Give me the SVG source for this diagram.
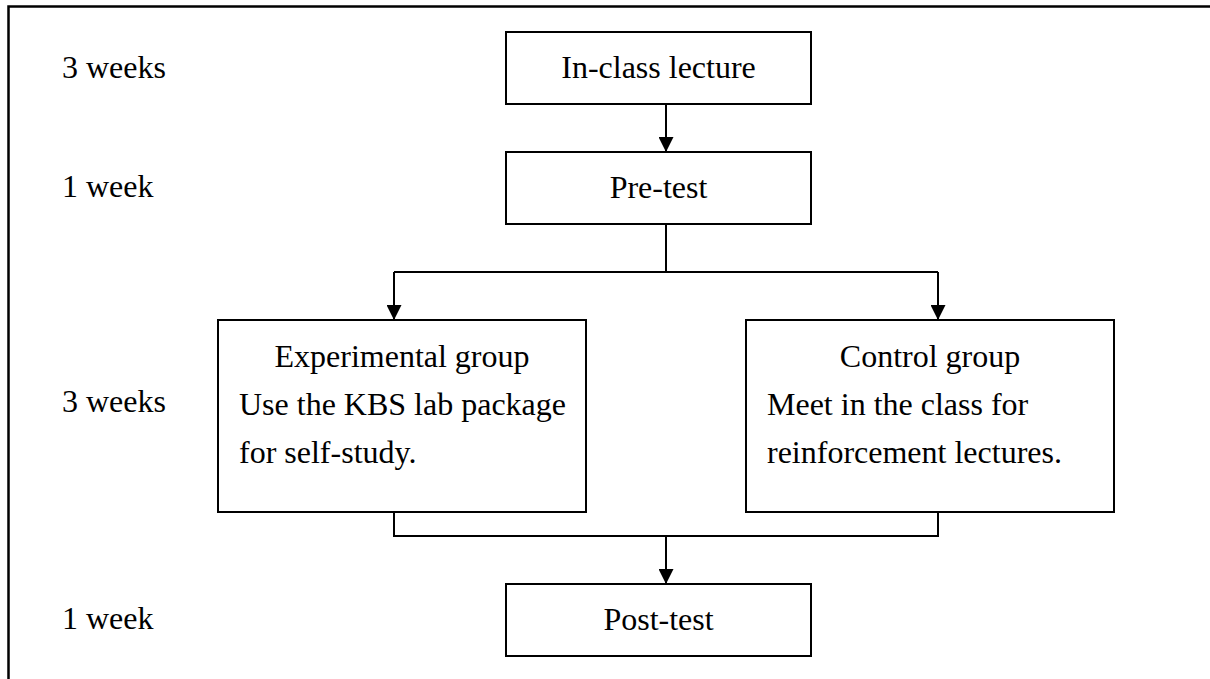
<svg xmlns="http://www.w3.org/2000/svg" width="1210" height="679" viewBox="0 0 1210 679">
  <style>
    .box { fill: #ffffff; stroke: #000000; stroke-width: 2; }
    .conn { fill: none; stroke: #000000; stroke-width: 2; }
    .lbl { font-family: "Liberation Serif", "Times New Roman", serif; font-size: 32px; fill: #000000; }
    .mid { text-anchor: middle; }
  </style>
  <defs>
    <marker id="arrow" viewBox="0 0 10 10" refX="10" refY="5" markerUnits="userSpaceOnUse" markerWidth="15" markerHeight="15" orient="auto">
      <path d="M0,0 L10,5 L0,10 Z" fill="#000000"/>
    </marker>
  </defs>
  <rect x="0" y="0" width="1210" height="679" fill="#ffffff"/>
  <path d="M8.5,679 V6.5 H1210" fill="none" stroke="#000000" stroke-width="2.5"/>

  <g id="timeline">
    <text class="lbl" x="62" y="78">3 weeks</text>
    <text class="lbl" x="62" y="197">1 week</text>
    <text class="lbl" x="62" y="412">3 weeks</text>
    <text class="lbl" x="62" y="629">1 week</text>
  </g>

  <g id="connectors">
    <line class="conn" x1="666" y1="104" x2="666" y2="152" marker-end="url(#arrow)"/>
    <path class="conn" d="M666,224 V272 M394,272 H938"/>
    <line class="conn" x1="394" y1="272" x2="394" y2="320" marker-end="url(#arrow)"/>
    <line class="conn" x1="938" y1="272" x2="938" y2="320" marker-end="url(#arrow)"/>
    <path class="conn" d="M394,512 V536 H938 V512"/>
    <line class="conn" x1="666" y1="536" x2="666" y2="584" marker-end="url(#arrow)"/>
  </g>

  <g id="node-lecture">
    <rect class="box" x="506" y="32" width="305" height="72"/>
    <text class="lbl mid" x="658.5" y="78">In-class lecture</text>
  </g>
  <g id="node-pretest">
    <rect class="box" x="506" y="152" width="305" height="72"/>
    <text class="lbl mid" x="658.5" y="198">Pre-test</text>
  </g>
  <g id="node-experimental">
    <rect class="box" x="218" y="320" width="368" height="192"/>
    <text class="lbl mid" x="402" y="367">Experimental group</text>
    <text class="lbl" x="239" y="415">Use the KBS lab package</text>
    <text class="lbl" x="239" y="463">for self-study.</text>
  </g>
  <g id="node-control">
    <rect class="box" x="746" y="320" width="368" height="192"/>
    <text class="lbl mid" x="930" y="367">Control group</text>
    <text class="lbl" x="767" y="415">Meet in the class for</text>
    <text class="lbl" x="767" y="463">reinforcement lectures.</text>
  </g>
  <g id="node-posttest">
    <rect class="box" x="506" y="584" width="305" height="72"/>
    <text class="lbl mid" x="658.5" y="630">Post-test</text>
  </g>
</svg>
